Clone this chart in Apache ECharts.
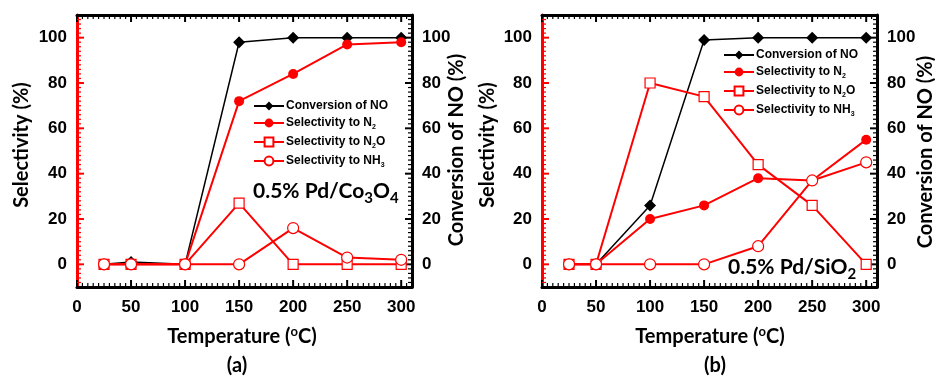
<!DOCTYPE html>
<html>
<head>
<meta charset="utf-8">
<style>
  html, body { margin: 0; padding: 0; background: #fff; }
  #chart { width: 935px; height: 379px; }
</style>
<script src="https://cdn.jsdelivr.net/npm/echarts@6/dist/echarts.min.js"></script>
</head>
<body>
<div id="chart"></div>
<script>
// Reaction temperatures (°C)
const temps = [25, 50, 100, 150, 200, 250, 300];

// Panel (a): 0.5% Pd/Co3O4
const convA = [0, 1, 0, 98, 100, 100, 100];
const n2A   = [0, 0, 0, 72, 84, 97, 98];
const n2oA  = [0, 0, 0, 27, 0, 0, 0];
const nh3A  = [0, 0, 0, 0, 16, 3, 2];

// Panel (b): 0.5% Pd/SiO2
const convB = [0, 0, 26, 99, 100, 100, 100];
const n2B   = [0, 0, 20, 26, 38, 37, 55];
const n2oB  = [0, 0, 80, 74, 44, 26, 0];
const nh3B  = [0, 0, 0, 0, 8, 37, 45];

// Axis tick labels
const xTicks = [0, 50, 100, 150, 200, 250, 300];
const yTicks = [0, 20, 40, 60, 80, 100];

const seriesNames = ['Conversion of NO', 'Selectivity to N2', 'Selectivity to N2O', 'Selectivity to NH3'];

const RED = '#ff0000';
const BLACK = '#000000';
const LABEL_FONT = 'Liberation Sans, Arial, sans-serif';
const TITLE_FONT = 'Lato, Open Sans, sans-serif';

const X_MIN = 0, X_MAX = 310, Y_MIN = -10, Y_MAX = 110;

const pairs = (ys) => temps.map((t, i) => [t, ys[i]]);

const chart = echarts.init(document.getElementById('chart'));

const grids = [
  { left: 77, right: 523, top: 15, bottom: 92 },
  { left: 542, right: 58, top: 15, bottom: 92 }
];

const labelStyle = { color: BLACK, fontFamily: LABEL_FONT, fontWeight: 'bold', fontSize: 17 };
const noTick = { show: false };

const xAxes = [];
const yAxes = [];
grids.forEach((g, gi) => {
  xAxes.push({
    gridIndex: gi, type: 'value', position: 'bottom', min: X_MIN, max: X_MAX, interval: 50,
    axisLine: { show: true, onZero: false, lineStyle: { color: BLACK, width: 3 } },
    axisTick: noTick, minorTick: noTick, splitLine: { show: false },
    axisLabel: Object.assign({ customValues: xTicks, margin: 12 }, labelStyle)
  });
  xAxes.push({
    gridIndex: gi, type: 'value', position: 'top', min: X_MIN, max: X_MAX, interval: 50,
    axisLine: { show: true, onZero: false, lineStyle: { color: BLACK, width: 3 } },
    axisTick: noTick, minorTick: noTick, splitLine: { show: false },
    axisLabel: { show: false }
  });
  yAxes.push({
    gridIndex: gi, type: 'value', position: 'left', min: Y_MIN, max: Y_MAX, interval: 10,
    axisLine: { show: true, onZero: false, lineStyle: { color: RED, width: 3 } },
    axisTick: noTick, minorTick: noTick, splitLine: { show: false },
    axisLabel: Object.assign({ customValues: yTicks, margin: 10 }, labelStyle)
  });
  yAxes.push({
    gridIndex: gi, type: 'value', position: 'right', min: Y_MIN, max: Y_MAX, interval: 10,
    axisLine: { show: true, onZero: false, lineStyle: { color: BLACK, width: 3 } },
    axisTick: noTick, minorTick: noTick, splitLine: { show: false },
    axisLabel: Object.assign({ customValues: yTicks, margin: 10 }, labelStyle)
  });
});

// Inward tick marks on all four frame sides, placed through the axis scales.
const tickItems = [];
for (let v = X_MIN; v < X_MAX; v += 5) tickItems.push([0, v]);
for (let v = Y_MIN + 2; v < Y_MAX; v += 2) tickItems.push([1, v]);

function renderTick(params, api) {
  const kind = api.value(0);
  const v = api.value(1);
  const major = kind === 0 ? (v % 50 === 0) : (v % 20 === 0 && v >= 0 && v <= 100);
  const len = major ? 7 : 4;
  const w = major ? 2 : 1.2;
  if (kind === 0) {
    const pb = api.coord([v, Y_MIN]);
    const pt = api.coord([v, Y_MAX]);
    return { type: 'group', children: [
      { type: 'line', shape: { x1: pb[0], y1: pb[1], x2: pb[0], y2: pb[1] - len }, style: { stroke: BLACK, lineWidth: w } },
      { type: 'line', shape: { x1: pt[0], y1: pt[1], x2: pt[0], y2: pt[1] + len }, style: { stroke: BLACK, lineWidth: w } }
    ] };
  }
  const pl = api.coord([X_MIN, v]);
  const pr = api.coord([X_MAX, v]);
  return { type: 'group', children: [
    { type: 'line', shape: { x1: pl[0], y1: pl[1], x2: pl[0] + len, y2: pl[1] }, style: { stroke: RED, lineWidth: w } },
    { type: 'line', shape: { x1: pr[0], y1: pr[1], x2: pr[0] - len, y2: pr[1] }, style: { stroke: BLACK, lineWidth: w } }
  ] };
}

function panelSeries(gi, conv, n2, n2o, nh3) {
  const xi = gi * 2;
  const yLeft = gi * 2;
  const yRight = gi * 2 + 1;
  return [
    {
      type: 'custom', xAxisIndex: xi, yAxisIndex: yLeft, data: tickItems,
      renderItem: renderTick, clip: false, silent: true, z: 1
    },
    {
      name: seriesNames[0], type: 'line', xAxisIndex: xi, yAxisIndex: yRight,
      data: pairs(conv), symbol: 'diamond', symbolSize: 12,
      itemStyle: { color: BLACK }, lineStyle: { color: BLACK, width: 1.5 }
    },
    {
      name: seriesNames[1], type: 'line', xAxisIndex: xi, yAxisIndex: yLeft,
      data: pairs(n2), symbol: 'circle', symbolSize: 10,
      itemStyle: { color: RED }, lineStyle: { color: RED, width: 2 }
    },
    {
      name: seriesNames[2], type: 'line', xAxisIndex: xi, yAxisIndex: yLeft,
      data: pairs(n2o), symbol: 'rect', symbolSize: 10,
      itemStyle: { color: '#ffffff', borderColor: RED, borderWidth: 1.2 },
      lineStyle: { color: RED, width: 2 }
    },
    {
      name: seriesNames[3], type: 'line', xAxisIndex: xi, yAxisIndex: yLeft,
      data: pairs(nh3), symbol: 'circle', symbolSize: 11,
      itemStyle: { color: '#ffffff', borderColor: RED, borderWidth: 1.2 },
      lineStyle: { color: RED, width: 2 }
    }
  ];
}

const legendRich = {
  t: { fontFamily: LABEL_FONT, fontWeight: 'bold', fontSize: 12, color: BLACK, lineHeight: 16, verticalAlign: 'middle' },
  s: { fontFamily: LABEL_FONT, fontWeight: 'bold', fontSize: 7, color: BLACK, lineHeight: 16, verticalAlign: 'bottom' }
};
function legendFormatter(name) {
  if (name === 'Selectivity to N2') return '{t|Selectivity to N}{s|2}';
  if (name === 'Selectivity to N2O') return '{t|Selectivity to N}{s|2}{t|O}';
  if (name === 'Selectivity to NH3') return '{t|Selectivity to NH}{s|3}';
  return '{t|' + name + '}';
}
function makeLegend(left, top) {
  return {
    data: seriesNames, left: left, top: top, orient: 'vertical',
    itemWidth: 30, itemHeight: 11, itemGap: 5, padding: 0,
    selectedMode: false, formatter: legendFormatter,
    textStyle: { rich: legendRich, padding: [0, 0, 0, -3] }
  };
}

const titleStyle = { fontFamily: TITLE_FONT, fontWeight: 'bold', fill: BLACK };
function vText(x, y, text, size) {
  return { type: 'text', x: x, y: y, rotation: Math.PI / 2,
    style: Object.assign({ text: text, fontSize: size, align: 'center', verticalAlign: 'middle' }, titleStyle) };
}
function richText(x, y, text, rich, align) {
  return { type: 'text', x: x, y: y,
    style: { text: text, rich: rich, align: align || 'center', verticalAlign: 'middle' } };
}
const tempRich = {
  t: { fontFamily: TITLE_FONT, fontWeight: 'bold', fontSize: 20, color: BLACK, lineHeight: 24, verticalAlign: 'middle' },
  o: { fontFamily: TITLE_FONT, fontWeight: 'bold', fontSize: 13, color: BLACK, lineHeight: 24, verticalAlign: 'top' }
};
const tagRich = {
  b: { fontFamily: TITLE_FONT, fontWeight: 'bold', fontSize: 21, color: BLACK, lineHeight: 30, verticalAlign: 'middle' },
  s: { fontFamily: TITLE_FONT, fontWeight: 'bold', fontSize: 15, color: BLACK, lineHeight: 30, verticalAlign: 'bottom' }
};
const panelRich = {
  p: { fontFamily: TITLE_FONT, fontWeight: 'bold', fontSize: 20, color: BLACK }
};

chart.setOption({
  animation: false,
  grid: grids,
  xAxis: xAxes,
  yAxis: yAxes,
  legend: [makeLegend(253, 100), makeLegend(723, 49)],
  series: panelSeries(0, convA, n2A, n2oA, nh3A).concat(panelSeries(1, convB, n2B, n2oB, nh3B)),
  graphic: [
    vText(22, 145, 'Selectivity (%)', 20),
    vText(457, 150, 'Conversion of NO (%)', 20),
    vText(488, 145, 'Selectivity (%)', 20),
    vText(926, 152, 'Conversion of NO (%)', 20),
    richText(242, 337, '{t|Temperature (}{o|o}{t|C)}', tempRich),
    richText(710, 337, '{t|Temperature (}{o|o}{t|C)}', tempRich),
    richText(237, 366, '{p|(a)}', panelRich),
    richText(715, 366, '{p|(b)}', panelRich),
    richText(253, 191, '{b|0.5% Pd/Co}{s|3}{b|O}{s|4}', tagRich, 'left'),
    richText(728, 267, '{b|0.5% Pd/SiO}{s|2}', tagRich, 'left')
  ]
});
</script>
</body>
</html>
